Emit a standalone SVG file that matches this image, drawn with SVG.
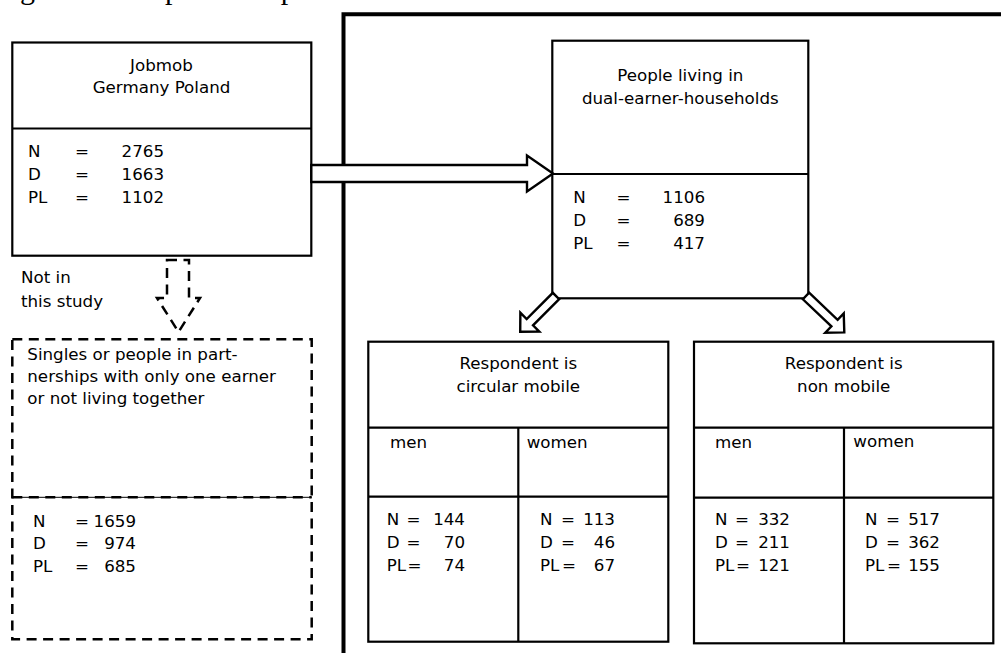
<svg xmlns="http://www.w3.org/2000/svg" width="1001" height="653" viewBox="0 0 1001 653">
<style>
.t{font-family:"DejaVu Sans","Liberation Sans",sans-serif;font-size:16.7px;fill:#000}
.m{text-anchor:middle}
.e{text-anchor:end}
.box{fill:none;stroke:#000;stroke-width:2.2}
.ln{stroke:#000;stroke-width:2.2;fill:none}
.dash{fill:none;stroke:#000;stroke-width:2.5;stroke-dasharray:10 6.5}
.arr{fill:#fff;stroke:#000;stroke-width:2.4;stroke-linejoin:miter}
.cap{font-family:"Liberation Serif","Times New Roman",serif;font-size:30px;fill:#000}
</style>
<rect width="1001" height="653" fill="#fff"/>
<text class="cap" x="-5" y="-1">Figure 1: Sample description</text>

<g id="frame">
<path d="M343.5 653 V14.3 H1001" fill="none" stroke="#000" stroke-width="4"/>
</g>

<g id="jobmob">
<rect class="box" x="12.3" y="42.5" width="299" height="213.2"/>
<line class="ln" x1="12.3" y1="128.5" x2="311.3" y2="128.5"/>
<text class="t m" x="161.5" y="70.7">Jobmob</text>
<text class="t m" x="161.5" y="93.3">Germany Poland</text>
<text class="t" x="28" y="156.7">N</text><text class="t m" x="82" y="156.7">=</text><text class="t e" x="164" y="156.7">2765</text>
<text class="t" x="28" y="179.5">D</text><text class="t m" x="82" y="179.5">=</text><text class="t e" x="164" y="179.5">1663</text>
<text class="t" x="28" y="203.3">PL</text><text class="t m" x="82" y="203.3">=</text><text class="t e" x="164" y="203.3">1102</text>
</g>

<g id="not-in-study">
<text class="t" x="21" y="283.3">Not in</text>
<text class="t" x="21" y="306.7">this study</text>
</g>

<g id="singles">
<rect class="dash" x="12.3" y="339.3" width="299.4" height="300"/>
<line x1="12.3" y1="497.3" x2="311.7" y2="497.3" stroke="#000" stroke-width="1"/>
<line class="dash" x1="12.3" y1="497.3" x2="311.7" y2="497.3"/>
<text class="t" x="27.3" y="360">Singles or people in part-</text>
<text class="t" x="27.3" y="381.7">nerships with only one earner</text>
<text class="t" x="27.3" y="404">or not living together</text>
<text class="t" x="33" y="526.5">N</text><text class="t m" x="82" y="526.5">=</text><text class="t e" x="136" y="526.5">1659</text>
<text class="t" x="33" y="548.5">D</text><text class="t m" x="82" y="548.5">=</text><text class="t e" x="136" y="548.5">974</text>
<text class="t" x="33" y="572.3">PL</text><text class="t m" x="82" y="572.3">=</text><text class="t e" x="136" y="572.3">685</text>
</g>

<g id="dual">
<rect class="box" x="552.3" y="40.7" width="256" height="257.6"/>
<line class="ln" x1="552.3" y1="174" x2="808.3" y2="174"/>
<text class="t m" x="680.3" y="81">People living in</text>
<text class="t m" x="680.3" y="104.3">dual-earner-households</text>
<text class="t" x="573.3" y="202.7">N</text><text class="t m" x="623.5" y="202.7">=</text><text class="t e" x="705" y="202.7">1106</text>
<text class="t" x="573.3" y="225.7">D</text><text class="t m" x="623.5" y="225.7">=</text><text class="t e" x="705" y="225.7">689</text>
<text class="t" x="573.3" y="249.3">PL</text><text class="t m" x="623.5" y="249.3">=</text><text class="t e" x="705" y="249.3">417</text>
</g>

<g id="circular">
<rect class="box" x="368.3" y="341.7" width="300" height="300"/>
<line class="ln" x1="368.3" y1="427.7" x2="668.3" y2="427.7"/>
<line class="ln" x1="368.3" y1="496.7" x2="668.3" y2="496.7"/>
<line class="ln" x1="518.3" y1="427.7" x2="518.3" y2="641.7"/>
<text class="t m" x="518.3" y="369.3">Respondent is</text>
<text class="t m" x="518.3" y="391.7">circular mobile</text>
<text class="t" x="390" y="448.3">men</text>
<text class="t" x="526.7" y="448.3">women</text>
<text class="t" x="386.7" y="525">N</text><text class="t m" x="413.5" y="525">=</text><text class="t e" x="465" y="525">144</text>
<text class="t" x="386.7" y="548">D</text><text class="t m" x="413.5" y="548">=</text><text class="t e" x="465" y="548">70</text>
<text class="t" x="386.7" y="571">PL</text><text class="t m" x="414.5" y="571">=</text><text class="t e" x="465" y="571">74</text>
<text class="t" x="540" y="525">N</text><text class="t m" x="568" y="525">=</text><text class="t e" x="615" y="525">113</text>
<text class="t" x="540" y="548">D</text><text class="t m" x="568" y="548">=</text><text class="t e" x="615" y="548">46</text>
<text class="t" x="540" y="571">PL</text><text class="t m" x="569" y="571">=</text><text class="t e" x="615" y="571">67</text>
</g>

<g id="nonmobile">
<rect class="box" x="694" y="341.7" width="299.3" height="301.6"/>
<line class="ln" x1="694" y1="427.7" x2="993.3" y2="427.7"/>
<line class="ln" x1="694" y1="497.7" x2="993.3" y2="497.7"/>
<line class="ln" x1="844" y1="427.7" x2="844" y2="643.3"/>
<text class="t m" x="843.7" y="369.3">Respondent is</text>
<text class="t m" x="843.7" y="391.7">non mobile</text>
<text class="t" x="715" y="448.3">men</text>
<text class="t" x="853.3" y="446.7">women</text>
<text class="t" x="715" y="525">N</text><text class="t m" x="742" y="525">=</text><text class="t e" x="790" y="525">332</text>
<text class="t" x="715" y="548">D</text><text class="t m" x="742" y="548">=</text><text class="t e" x="790" y="548">211</text>
<text class="t" x="715" y="571">PL</text><text class="t m" x="743" y="571">=</text><text class="t e" x="790" y="571">121</text>
<text class="t" x="865" y="525">N</text><text class="t m" x="893" y="525">=</text><text class="t e" x="940" y="525">517</text>
<text class="t" x="865" y="548">D</text><text class="t m" x="893" y="548">=</text><text class="t e" x="940" y="548">362</text>
<text class="t" x="865" y="571">PL</text><text class="t m" x="894" y="571">=</text><text class="t e" x="940" y="571">155</text>
</g>

<g id="connectors">
<polygon class="arr" points="311.3,165 527,165 527,155.5 553,173.5 527,191.5 527,182 311.3,182"/>
<polygon class="dash" points="167,260 189,260 189,298 200,298 178.5,332 157,298 167,298"/>
<g transform="translate(556,296) rotate(135)">
<polygon class="arr" points="0,-4.5 37,-4.5 37,-13.4 50.6,0 37,13.4 37,4.5 0,4.5"/>
</g>
<g transform="translate(806,296) rotate(43.5)">
<polygon class="arr" points="0,-4.5 39.3,-4.5 39.3,-13.4 52.8,0 39.3,13.4 39.3,4.5 0,4.5"/>
</g>
</g>
</svg>
